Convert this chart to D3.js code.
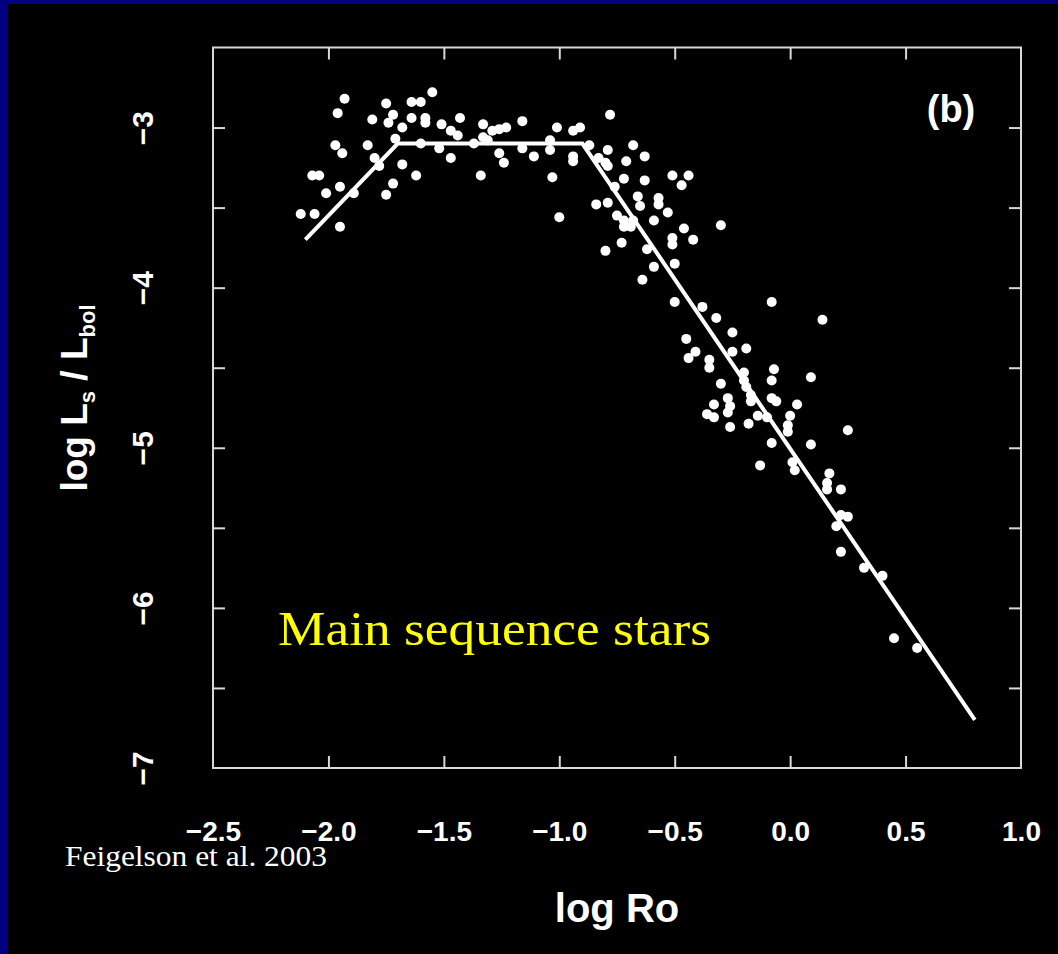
<!DOCTYPE html>
<html>
<head>
<meta charset="utf-8">
<script src="https://cdn.jsdelivr.net/npm/d3@7"></script>
<style>
  html, body { margin: 0; padding: 0; background: #000; }
  svg { display: block; }
</style>
</head>
<body>
<svg id="chart" width="1058" height="954"></svg>
<script>
// ---- Data ----
const logRo = [
  -1.93,-1.55,-1.96,-1.75,-1.64,-1.60,-1.72,-1.81,-1.64,-1.58,-1.58,-1.74,-1.68,-1.43,-1.33,-1.16,-0.78,
  -1.51,-1.47,-1.44,-1.29,-1.26,-1.23,-1.01,-0.94,-0.91,-1.71,-1.33,-1.97,-1.94,-1.83,-1.60,-1.52,-1.37,
  -1.31,-1.16,-1.04,-1.04,-1.26,-0.79,-1.11,-1.47,-1.24,-0.94,-0.94,-1.80,-1.78,-1.68,-0.83,-0.80,-2.07,
  -2.04,-1.62,-1.34,-1.03,-1.95,-1.72,-2.01,-1.89,-1.75,-2.12,-2.06,-1.95,-1.00,-0.84,-0.79,
  -0.87,-0.68,-0.63,-0.71,-0.79,-0.72,-0.63,-0.51,-0.44,-0.47,-0.66,-0.65,-0.57,-0.57,-0.53,-0.75,-0.72,
  -0.68,-0.72,-0.69,-0.59,-0.46,-0.30,-0.51,-0.51,-0.42,-0.80,-0.73,-0.62,-0.59,-0.50,-0.64,-0.50,-0.38,
  -0.32,-0.08,-0.76,
  0.14,-0.45,-0.25,-0.41,-0.44,-0.25,-0.19,-0.35,-0.35,-0.20,-0.20,-0.19,-0.17,-0.17,-0.07,-0.08,0.09,
  -0.30,-0.27,-0.26,-0.27,-0.33,-0.08,-0.06,0.03,-0.36,-0.33,-0.14,-0.10,-0.18,0.00,-0.01,-0.01,-0.26,
  0.25,-0.08,0.09,-0.13,0.01,0.02,0.17,0.16,0.16,0.22,
  0.22,0.25,0.20,0.22,0.32,0.40,0.45,0.55
];
const logLxLbol = [
  -2.82,-2.78,-2.91,-2.85,-2.84,-2.84,-2.92,-2.95,-2.94,-2.94,-2.97,-2.97,-3.00,-2.94,-2.98,-2.96,-2.92,
  -2.98,-3.02,-3.05,-3.02,-3.01,-3.00,-3.00,-3.02,-3.00,-3.07,-3.06,-3.11,-3.16,-3.11,-3.10,-3.13,-3.10,
  -3.08,-3.13,-3.08,-3.14,-3.16,-3.14,-3.18,-3.19,-3.22,-3.18,-3.21,-3.19,-3.24,-3.23,-3.19,-3.22,-3.30,
  -3.30,-3.30,-3.30,-3.31,-3.37,-3.35,-3.41,-3.41,-3.42,-3.54,-3.54,-3.62,-3.56,-3.48,-3.47,
  -3.11,-3.11,-3.18,-3.21,-3.24,-3.32,-3.33,-3.30,-3.30,-3.36,-3.43,-3.49,-3.44,-3.48,-3.53,-3.55,-3.58,
  -3.58,-3.62,-3.62,-3.58,-3.63,-3.61,-3.69,-3.73,-3.70,-3.77,-3.72,-3.76,-3.87,-3.85,-3.95,-4.09,-4.12,
  -4.19,-4.09,-3.37,
  -4.20,-4.32,-4.28,-4.40,-4.44,-4.40,-4.38,-4.45,-4.50,-4.53,-4.58,-4.62,-4.67,-4.71,-4.51,-4.58,-4.56,
  -4.60,-4.69,-4.74,-4.78,-4.73,-4.69,-4.71,-4.73,-4.79,-4.81,-4.80,-4.81,-4.85,-4.80,-4.86,-4.90,-4.87,
  -4.89,-4.97,-4.98,-5.11,-5.09,-5.14,-5.16,-5.22,-5.26,-5.26,
  -5.42,-5.43,-5.49,-5.65,-5.75,-5.80,-6.19,-6.25
];
// broken-line fit
const fitRo = [-2.1, -1.7, -0.9, 0.8];
const fitL  = [-3.7, -3.1, -3.1, -6.7];

const xDomain = [-2.5, 1.0];
const yDomain = [-7, -2.5];
const xTickValues = [-2.5, -2.0, -1.5, -1.0, -0.5, 0.0, 0.5, 1.0];
const xInnerTicks = [-2.0, -1.5, -1.0, -0.5, 0.0, 0.5];
const yLabelValues = [-3, -4, -5, -6, -7];
const yInnerTicks = [-6.5, -6, -5.5, -5, -4.5, -4, -3.5, -3];

const xTitle = "log Ro";
const panelLabel = "(b)";
const annotation = "Main sequence stars";
const credit = "Feigelson et al. 2003";

// ---- Layout ----
const W = 1058, H = 954;
const L = 213, R = 1021, T = 47.5, B = 768;

const svg = d3.select("#chart");

// navy slide border (left and top)
svg.append("rect").attr("x", 0).attr("y", 0).attr("width", W).attr("height", H).attr("fill", "#000080");
svg.append("rect").attr("x", 8).attr("y", 4).attr("width", W - 8).attr("height", H - 4).attr("fill", "#000");

const x = d3.scaleLinear().domain(xDomain).range([L, R]);
const y = d3.scaleLinear().domain(yDomain).range([B, T]);

const frameColor = "#d8d8d8";
const TL = 12;

// inward ticks on all four sides
function styleTicks(g) {
  g.select(".domain").remove();
  g.selectAll(".tick line").attr("stroke", frameColor).attr("stroke-width", 2);
  g.selectAll(".tick text").remove();
}
svg.append("g").attr("transform", `translate(0,${B})`)
  .call(d3.axisBottom(x).tickValues(xInnerTicks).tickSize(-TL)).call(styleTicks);
svg.append("g").attr("transform", `translate(0,${T})`)
  .call(d3.axisTop(x).tickValues(xInnerTicks).tickSize(-TL)).call(styleTicks);
svg.append("g").attr("transform", `translate(${L},0)`)
  .call(d3.axisLeft(y).tickValues(yInnerTicks).tickSize(-TL)).call(styleTicks);
svg.append("g").attr("transform", `translate(${R},0)`)
  .call(d3.axisRight(y).tickValues(yInnerTicks).tickSize(-TL)).call(styleTicks);

// frame
svg.append("rect").attr("x", L).attr("y", T).attr("width", R - L).attr("height", B - T)
  .attr("fill", "none").attr("stroke", frameColor).attr("stroke-width", 2);

const tickFont = "'Liberation Sans', Arial, Helvetica, sans-serif";

// x tick labels
const xLab = svg.append("g").attr("transform", `translate(0,${B})`)
  .call(d3.axisBottom(x).tickValues(xTickValues).tickSize(0).tickFormat(d3.format(".1f")));
xLab.select(".domain").remove();
xLab.selectAll(".tick text")
  .attr("y", 73).attr("dy", 0)
  .attr("fill", "#fff")
  .style("font-family", tickFont).style("font-weight", "bold").style("font-size", "28px");

// y tick labels (rotated)
const yLab = svg.append("g").attr("transform", `translate(${L},0)`)
  .call(d3.axisLeft(y).tickValues(yLabelValues).tickSize(0).tickFormat(d3.format("d")));
yLab.select(".domain").remove();
yLab.selectAll(".tick text")
  .attr("x", 0).attr("dy", 0)
  .attr("transform", "translate(-60,0) rotate(-90)")
  .attr("text-anchor", "middle")
  .attr("fill", "#fff")
  .style("font-family", tickFont).style("font-weight", "bold").style("font-size", "30px");

// axis titles
svg.append("text").attr("x", 617).attr("y", 922).attr("text-anchor", "middle")
  .attr("fill", "#fff").style("font-family", tickFont).style("font-weight", "bold").style("font-size", "40px")
  .text(xTitle);

const yt = svg.append("text").attr("transform", "translate(87,398) rotate(-90)")
  .attr("text-anchor", "middle").attr("fill", "#fff")
  .style("font-family", tickFont).style("font-weight", "bold").style("font-size", "37px");
yt.append("tspan").text("log L");
yt.append("tspan").attr("dy", 8).style("font-size", "22px").text("s");
yt.append("tspan").attr("dy", -8).text(" / L");
yt.append("tspan").attr("dy", 8).style("font-size", "22px").text("bol");

// panel label
svg.append("text").attr("x", 951).attr("y", 122).attr("text-anchor", "middle")
  .attr("fill", "#fff").style("font-family", tickFont).style("font-weight", "bold").style("font-size", "38px")
  .text(panelLabel);

// fit line
const pts = logRo.map((d, i) => [d, logLxLbol[i]]);
const fit = fitRo.map((d, i) => [d, fitL[i]]);
svg.append("path").datum(fit)
  .attr("d", d3.line().x(d => x(d[0])).y(d => y(d[1])))
  .attr("fill", "none").attr("stroke", "#fff").attr("stroke-width", 4);

// points
svg.append("g").selectAll("circle").data(pts).join("circle")
  .attr("cx", d => x(d[0])).attr("cy", d => y(d[1])).attr("r", 5)
  .attr("fill", "#fff");

// annotations
svg.append("text").attr("x", 278).attr("y", 645)
  .attr("fill", "#ffff00").style("font-family", "'Liberation Serif', 'Times New Roman', serif").style("font-size", "48px")
  .attr("textLength", 433).attr("lengthAdjust", "spacingAndGlyphs")
  .text(annotation);

svg.append("text").attr("x", 65).attr("y", 866)
  .attr("fill", "#fff").style("font-family", "'Liberation Serif', 'Times New Roman', serif").style("font-size", "29px")
  .attr("textLength", 262).attr("lengthAdjust", "spacingAndGlyphs")
  .text(credit);
</script>
</body>
</html>
